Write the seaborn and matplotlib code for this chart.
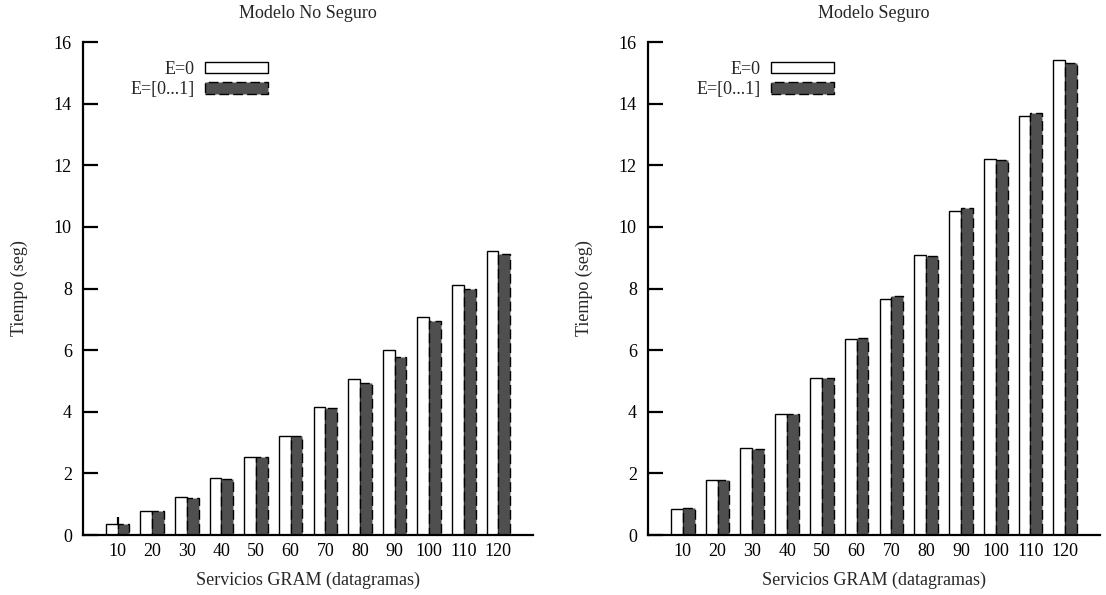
import pandas as pd
import numpy as np
import matplotlib
matplotlib.use("Agg")
import matplotlib.pyplot as plt
import seaborn as sns
from matplotlib.patches import Patch

# Data
servicios = ["10", "20", "30", "40", "50", "60", "70", "80", "90", "100", "110", "120"]
series_names = ["E=0", "E=[0...1]"]

no_seguro_e0 = [0.35, 0.77, 1.25, 1.85, 2.52, 3.20, 4.15, 5.07, 6.02, 7.08, 8.12, 9.22]
no_seguro_e01 = [0.35, 0.77, 1.20, 1.82, 2.52, 3.20, 4.12, 4.92, 5.78, 6.95, 8.00, 9.12]

seguro_e0 = [0.85, 1.77, 2.82, 3.92, 5.10, 6.35, 7.65, 9.08, 10.50, 12.20, 13.60, 15.40]
seguro_e01 = [0.87, 1.78, 2.78, 3.92, 5.10, 6.38, 7.75, 9.07, 10.60, 12.18, 13.70, 15.33]

# stray error tick on the first group of the left plot
stray_top = 0.57

dark_fill = "#4f4f4f"

sns.set_theme(style="white")
plt.rcParams["font.family"] = ["Liberation Serif", "DejaVu Serif"]
plt.rcParams["font.size"] = 13


def make_df(e0, e01):
    rows = []
    for name, vals in zip(series_names, [e0, e01]):
        for s, v in zip(servicios, vals):
            rows.append({"servicios": s, "tiempo": v, "serie": name})
    return pd.DataFrame(rows)


def draw_panel(ax, df, title):
    sns.barplot(
        data=df, x="servicios", y="tiempo", hue="serie",
        order=servicios, hue_order=series_names,
        palette=["white", dark_fill], width=0.68, gap=0,
        legend=False, ax=ax, saturation=1,
    )
    # style the two series like the gnuplot original
    for bar in ax.containers[0]:
        bar.set_edgecolor("black")
        bar.set_linewidth(1.0)
    for bar in ax.containers[1]:
        bar.set_edgecolor("black")
        bar.set_linewidth(1.0)
        bar.set_linestyle((0, (7, 3)))

    ax.set_xlim(-1, 12)
    ax.set_ylim(0, 16)
    ax.set_yticks(np.arange(0, 17, 2))
    ax.set_title(title, fontsize=13, pad=17.5)
    ax.set_xlabel("Servicios GRAM (datagramas)", fontsize=13, labelpad=8)
    ax.set_ylabel("Tiempo (seg)", fontsize=13, labelpad=18.5)

    for side in ["top", "right"]:
        ax.spines[side].set_visible(False)
    for side in ["left", "bottom"]:
        ax.spines[side].set_linewidth(1.6)
        ax.spines[side].set_color("black")

    ax.tick_params(axis="y", direction="in", length=11, width=1.6, pad=8,
                   labelsize=13, colors="black", left=True)
    ax.tick_params(axis="x", length=0, pad=6, labelsize=13, colors="black")

    handles = [
        Patch(facecolor="white", edgecolor="black", linewidth=1.0),
        Patch(facecolor=dark_fill, edgecolor="black", linewidth=1.0,
              linestyle=(0, (7, 3))),
    ]
    ax.legend(handles, series_names, loc="upper right",
              bbox_to_anchor=(0.411, 0.962), frameon=False, markerfirst=False,
              handlelength=3.5, handleheight=0.6, handletextpad=0.55,
              labelspacing=0.2, borderpad=0, borderaxespad=0, fontsize=13)


fig = plt.figure(figsize=(11.06, 5.95), dpi=100)
ax1 = fig.add_axes([0.0750, 0.1008, 0.4069, 0.8286])
ax2 = fig.add_axes([0.5859, 0.1008, 0.4087, 0.8286])

draw_panel(ax1, make_df(no_seguro_e0, no_seguro_e01), "Modelo No Seguro")
draw_panel(ax2, make_df(seguro_e0, seguro_e01), "Modelo Seguro")

ax1.vlines(0, no_seguro_e0[0], stray_top, color="black", linewidth=1.6)

fig.savefig("out.png", dpi=100)
